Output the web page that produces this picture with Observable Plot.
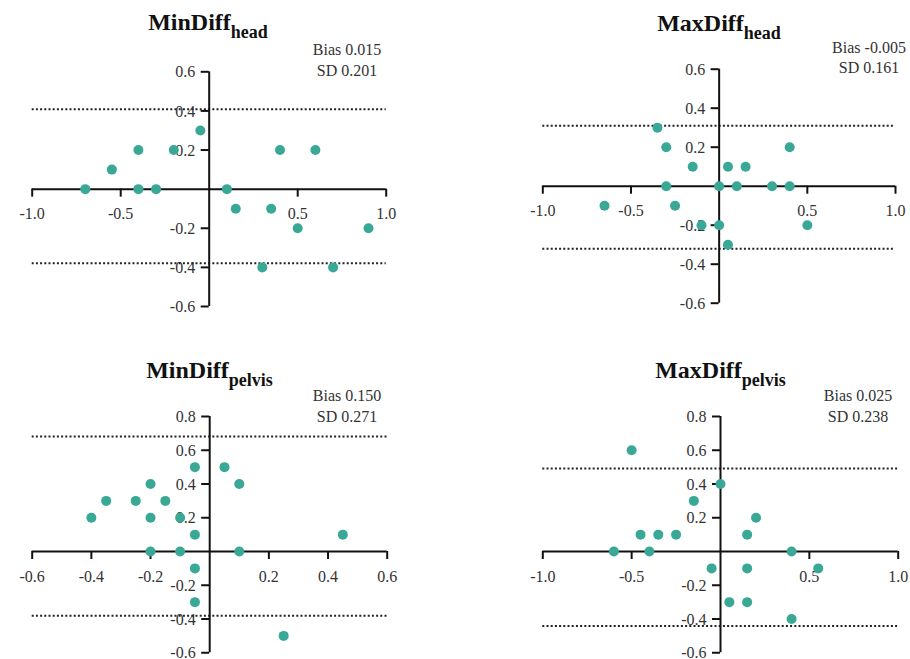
<!DOCTYPE html>
<html>
<head>
<meta charset="utf-8">
<script src="https://cdn.jsdelivr.net/npm/d3@7"></script>
<script src="https://cdn.jsdelivr.net/npm/@observablehq/plot@0.6"></script>
<style>
  html, body { margin: 0; padding: 0; background: #fff; }
  #wrap { position: relative; width: 910px; height: 659px; overflow: hidden; font-family: "Liberation Serif", "DejaVu Serif", serif; }
  .panel { position: absolute; }
  .panel text { font-family: "Liberation Serif", serif; }
  .title { position: absolute; transform: translateX(-50%); font-size: 24px; line-height: 24px; font-weight: bold; color: #111; white-space: nowrap; }
  .title span { font-size: 18px; position: relative; top: 8px; }
  .stats { position: absolute; transform: translateX(-50%); font-size: 16px; line-height: 20.7px; color: #333; text-align: center; white-space: nowrap; }
</style>
</head>
<body>
<div id="wrap"></div>
<script>
// ---------- data ----------
// MinDiff head
const minHeadX = [-0.70, -0.55, -0.40, -0.40, -0.30, -0.20, -0.05, 0.10, 0.15, 0.35, 0.40, 0.60, 0.50, 0.90, 0.30, 0.70];
const minHeadY = [0, 0.1, 0.2, 0, 0, 0.2, 0.3, 0, -0.1, -0.1, 0.2, 0.2, -0.2, -0.2, -0.4, -0.4];
const minHeadBias = 0.015, minHeadSD = 0.201;

// MaxDiff head
const maxHeadX = [-0.35, -0.30, -0.15, -0.30, -0.65, -0.25, -0.10, 0, 0.05, 0, 0.05, 0.15, 0.10, 0.30, 0.40, 0.40, 0.50];
const maxHeadY = [0.3, 0.2, 0.1, 0, -0.1, -0.1, -0.2, -0.2, -0.3, 0, 0.1, 0.1, 0, 0, 0, 0.2, -0.2];
const maxHeadBias = -0.005, maxHeadSD = 0.161;

// MinDiff pelvis
const minPelvisX = [-0.40, -0.35, -0.25, -0.15, -0.20, -0.20, -0.10, -0.20, -0.10, -0.05, -0.05, -0.05, -0.05, 0.05, 0.10, 0.10, 0.45, 0.25];
const minPelvisY = [0.2, 0.3, 0.3, 0.3, 0.4, 0.2, 0.2, 0, 0, 0.5, 0.1, -0.1, -0.3, 0.5, 0.4, 0, 0.1, -0.5];
const minPelvisBias = 0.150, minPelvisSD = 0.271;

// MaxDiff pelvis
const maxPelvisX = [-0.50, 0, -0.15, 0.20, -0.45, -0.35, -0.25, 0.15, -0.60, -0.40, 0.40, -0.05, 0.15, 0.55, 0.05, 0.15, 0.40];
const maxPelvisY = [0.6, 0.4, 0.3, 0.2, 0.1, 0.1, 0.1, 0.1, 0, 0, 0, -0.1, -0.1, -0.1, -0.3, -0.3, -0.4];
const maxPelvisBias = 0.025, maxPelvisSD = 0.238;

// tick values
const headXTicks = [-1.0, -0.5, 0.5, 1.0];
const headYTicks = [-0.6, -0.4, -0.2, 0.2, 0.4, 0.6];
const minPelvisXTicks = [-0.6, -0.4, -0.2, 0.2, 0.4, 0.6];
const pelvisYTicks = [-0.6, -0.4, -0.2, 0.2, 0.4, 0.6, 0.8];

// ---------- layout ----------
const panels = [
  {name: "MinDiff", sub: "head", xs: minHeadX, ys: minHeadY, bias: minHeadBias, sd: minHeadSD,
   xDomain: [-1, 1], yDomain: [-0.6, 0.6], xTicks: headXTicks, yTicks: headYTicks,
   left: 0, top: 0, width: 455, height: 330, mL: 31.7, mR: 69.3, mT: 71.3, mB: 24,
   titleX: 208, titleTop: 10, statsX: 347, statsTop: 40},
  {name: "MaxDiff", sub: "head", xs: maxHeadX, ys: maxHeadY, bias: maxHeadBias, sd: maxHeadSD,
   xDomain: [-1, 1], yDomain: [-0.6, 0.6], xTicks: headXTicks, yTicks: headYTicks,
   left: 455, top: 0, width: 455, height: 330, mL: 87.3, mR: 15, mT: 68.7, mB: 27.3,
   titleX: 719, titleTop: 10.7, statsX: 869, statsTop: 37.5},
  {name: "MinDiff", sub: "pelvis", xs: minPelvisX, ys: minPelvisY, bias: minPelvisBias, sd: minPelvisSD,
   xDomain: [-0.6, 0.6], yDomain: [-0.6, 0.8], xTicks: minPelvisXTicks, yTicks: pelvisYTicks,
   left: 0, top: 330, width: 455, height: 329, mL: 31.7, mR: 68.3, mT: 86, mB: 6.75,
   titleX: 209.5, titleTop: 358.3, statsX: 347, statsTop: 386},
  {name: "MaxDiff", sub: "pelvis", xs: maxPelvisX, ys: maxPelvisY, bias: maxPelvisBias, sd: maxPelvisSD,
   xDomain: [-1, 1], yDomain: [-0.6, 0.8], xTicks: headXTicks, yTicks: pelvisYTicks,
   left: 455, top: 330, width: 455, height: 329, mL: 87.3, mR: 12.3, mT: 86, mB: 6.75,
   titleX: 720.5, titleTop: 358.3, statsX: 858, statsTop: 386}
];

const fmt = d => d.toFixed(1);
const fmtStat = d => d.toFixed(3);
const wrap = document.getElementById("wrap");
const teal = "#3aa896";
const ink = "#111";
const serif = "Liberation Serif";

for (const p of panels) {
  const pts = p.xs.map((x, i) => ({x, y: p.ys[i]}));
  const upper = p.bias + 1.96 * p.sd;
  const lower = p.bias - 1.96 * p.sd;
  const svg = Plot.plot({
    width: p.width,
    height: p.height,
    marginLeft: p.mL, marginRight: p.mR, marginTop: p.mT, marginBottom: p.mB,
    style: {background: "transparent", overflow: "visible", fontFamily: serif},
    x: {domain: p.xDomain, axis: null},
    y: {domain: p.yDomain, axis: null},
    marks: [
      // tick labels
      Plot.text(p.xTicks, {x: d => d, y: 0, text: fmt, dy: 25, fontSize: 16, fontFamily: serif, fill: "#333"}),
      Plot.text(p.yTicks, {x: 0, y: d => d, text: fmt, dx: -14, dy: 0.5, textAnchor: "end", fontSize: 16, fontFamily: serif, fill: "#333"}),
      // limits of agreement
      Plot.ruleY([upper, lower], {x1: p.xDomain[0], x2: p.xDomain[1], stroke: "#222", strokeWidth: 2, strokeDasharray: "2,2.2"}),
      // axes
      Plot.ruleY([0], {x1: p.xDomain[0], x2: p.xDomain[1], stroke: ink, strokeWidth: 2}),
      Plot.ruleX([0], {y1: p.yDomain[0], y2: p.yDomain[1], stroke: ink, strokeWidth: 2}),
      Plot.ruleX(p.xTicks, {x: d => d, y1: 0, y2: 0, insetBottom: -8, stroke: ink, strokeWidth: 2}),
      Plot.ruleY(p.yTicks, {y: d => d, x1: 0, x2: 0, insetLeft: -8, stroke: ink, strokeWidth: 2}),
      // points
      Plot.dot(pts, {x: "x", y: "y", r: 5, fill: teal, stroke: null})
    ]
  });
  svg.classList.add("panel");
  svg.style.left = p.left + "px";
  svg.style.top = p.top + "px";
  svg.style.position = "absolute";
  wrap.appendChild(svg);

  const t = document.createElement("div");
  t.className = "title";
  t.style.left = p.titleX + "px";
  t.style.top = p.titleTop + "px";
  t.innerHTML = `${p.name}<span>${p.sub}</span>`;
  wrap.appendChild(t);

  const s = document.createElement("div");
  s.className = "stats";
  s.style.left = p.statsX + "px";
  s.style.top = p.statsTop + "px";
  s.innerHTML = `Bias ${fmtStat(p.bias)}<br>SD ${fmtStat(p.sd)}`;
  wrap.appendChild(s);
}
</script>
</body>
</html>
